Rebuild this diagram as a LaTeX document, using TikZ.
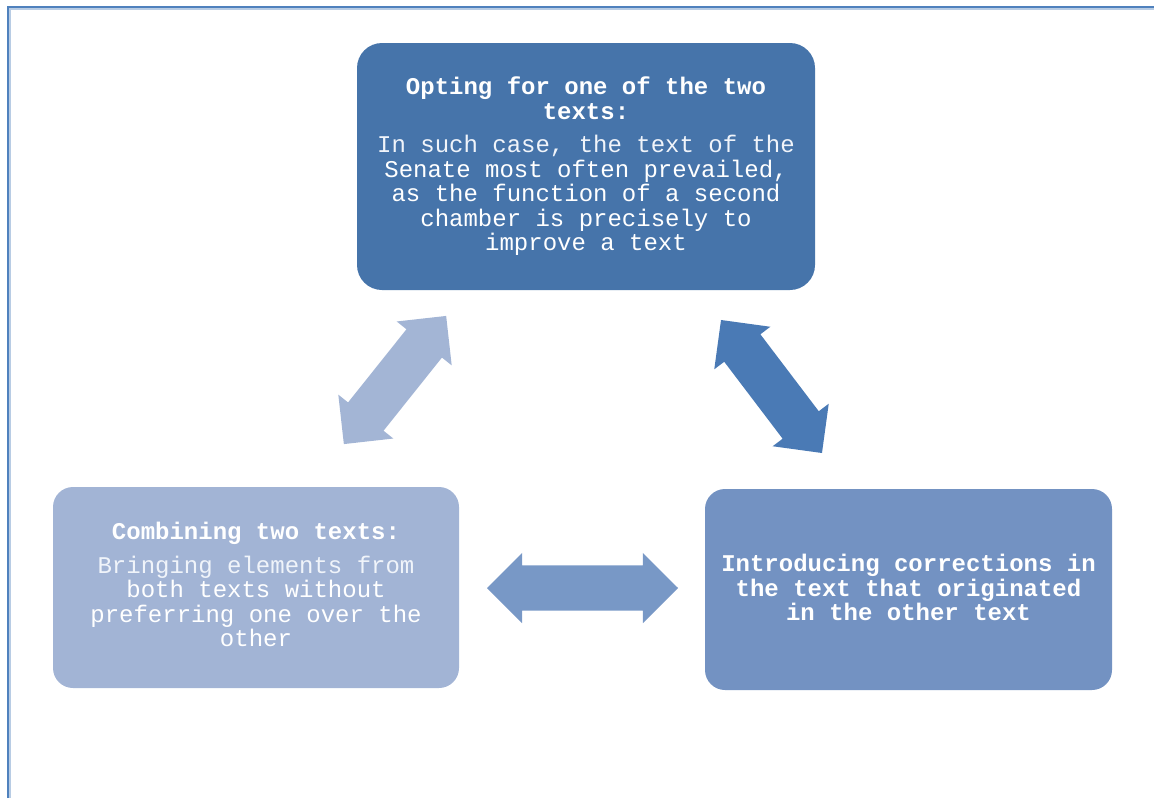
\documentclass[tikz,border=0pt]{standalone}
\usepackage{fontspec}
\setmonofont{Liberation Mono}
\usetikzlibrary{shapes.arrows}

\definecolor{framelineblue}{RGB}{79,129,189}
\definecolor{framelight}{RGB}{184,204,228}
\definecolor{boxdark}{RGB}{70,116,170}
\definecolor{boxmid}{RGB}{115,146,194}
\definecolor{boxlight}{RGB}{162,180,213}
\definecolor{arrdark}{RGB}{74,122,181}
\definecolor{arrmid}{RGB}{120,152,198}
\definecolor{arrlight}{RGB}{163,181,213}
\definecolor{bodytext}{RGB}{240,244,250}

\tikzset{
  stagebox/.style={rectangle, inner sep=0pt, align=center, text=white,
    font=\ttfamily\fontsize{24}{24.5}\selectfont},
  linkarrow/.style={double arrow, draw=none, inner xsep=0pt, inner ysep=22.5pt,
    minimum width=70, double arrow head extend=12.5,
    double arrow head indent=0pt},
}

\begin{document}
\begin{tikzpicture}[x=1pt,y=-1pt]
\useasboundingbox (0,0) rectangle (1154,798);

% outer frame (left and top edges)
\draw[framelight, line width=1.2] (9.9,798) -- (9.9,8.9) -- (1154,8.9);
\draw[framelineblue, line width=2.2] (8,798) -- (8,7) -- (1154,7);

% the three stages
\node[stagebox, fill=boxdark, minimum width=458, minimum height=247,
      rounded corners=25] (opt) at (586,166.5)
  {\textbf{Opting for one of the two}\\\textbf{texts:}\\[9pt]
   \color{bodytext}In such case, the text of the\\Senate most often prevailed,\\
   as the function of a second\\chamber is precisely to\\improve a text};

\node[stagebox, fill=boxlight, minimum width=406, minimum height=201,
      rounded corners=20] (comb) at (256,587.5)
  {\textbf{Combining two texts:}\\[9pt]
   \color{bodytext}Bringing elements from\\both texts without\\preferring one over the\\other\\[-18.5pt]\mbox{}};

\node[stagebox, fill=boxmid, minimum width=407, minimum height=201,
      rounded corners=20] (corr) at (908.5,589.5)
  {\textbf{Introducing corrections in}\\\textbf{the text that originated}\\
   \textbf{in the other text}\\[-20.5pt]\mbox{}};

% two-way block arrows between the stages
\node[linkarrow, fill=arrlight, minimum height=164, rotate=51.4]
  (combopt) at (395,380) {};
\node[linkarrow, fill=arrdark, minimum height=167, rotate=-52.8]
  (optcorr) at (771.5,386.5) {};
\node[linkarrow, fill=arrmid, minimum height=191]
  (combcorr) at (582.5,588) {};

\end{tikzpicture}
\end{document}
